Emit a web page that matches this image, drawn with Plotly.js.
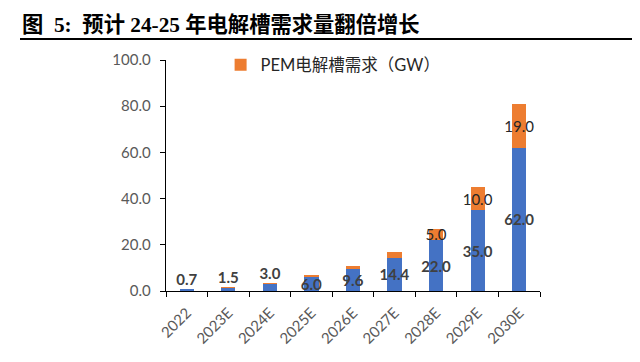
<!DOCTYPE html>
<html>
<head>
<meta charset="utf-8">
<script src="https://cdn.plot.ly/plotly-3.0.1.min.js"></script>
<style>html,body{margin:0;padding:0;background:#fff;}#chart{width:640px;height:362px;}</style>
</head>
<body>
<div id="chart"></div>
<script>
const categories = ["2022", "2023E", "2024E", "2025E", "2026E", "2027E", "2028E", "2029E", "2030E"];
const alkDemand = [0.7, 1.5, 3.0, 6.0, 9.6, 14.4, 22.0, 35.0, 62.0];
const pemDemand = [0.3, 0.3, 0.6, 0.8, 1.4, 2.4, 5.0, 10.0, 19.0];
const pemLabelled = [false, false, false, false, false, false, true, true, true];
const alkLabelAbove = [true, true, true, false, false, false, false, false, false];
const yTicks = [0, 20, 40, 60, 80, 100];

const titleText = "图&#8194;5:&#8194;预计 24-25 年电解槽需求量翻倍增长";
const pemName = "PEM电解槽需求（GW）";
const alkName = "ALK电解槽需求（GW）";

const totals = alkDemand.map((v, i) => v + pemDemand[i]);

const latin = "Lato, 'Noto Sans CJK SC', sans-serif";

const traces = [
  {
    type: "bar", name: alkName, x: categories, y: alkDemand,
    marker: {color: "#4472C4"}, showlegend: false,
    text: alkDemand.map((v, i) => alkLabelAbove[i] ? "" : v.toFixed(1)),
    textposition: "inside", insidetextanchor: "middle", constraintext: "none",
    textangle: 0, cliponaxis: false,
    textfont: {family: latin, size: 15, color: "#404040", weight: "bold"},
    hoverinfo: "skip"
  },
  {
    type: "bar", name: pemName, x: categories, y: pemDemand,
    marker: {color: "#ED7D31"},
    text: pemDemand.map((v, i) => pemLabelled[i] ? v.toFixed(1) : ""),
    textposition: "inside", insidetextanchor: "middle", constraintext: "none",
    textangle: 0, cliponaxis: false,
    textfont: {family: latin, size: 15, color: "#262626"},
    hoverinfo: "skip"
  },
  {
    type: "scatter", mode: "text", showlegend: false,
    x: categories.filter((c, i) => alkLabelAbove[i]),
    y: totals.filter((c, i) => alkLabelAbove[i]),
    text: alkDemand.filter((c, i) => alkLabelAbove[i]).map(v => v.toFixed(1)),
    textposition: "top center", cliponaxis: false,
    textfont: {family: latin, size: 15, color: "#404040", weight: "bold"},
    hoverinfo: "skip"
  }
];

const layout = {
  width: 640, height: 362,
  margin: {l: 166, r: 100, t: 60, b: 71},
  paper_bgcolor: "#fff", plot_bgcolor: "#fff",
  barmode: "stack", bargap: 0.66,
  title: {
    text: titleText,
    x: 22 / 640, xanchor: "left", xref: "container",
    y: 1 - 25 / 362, yanchor: "middle", yref: "container",
    font: {family: "'Liberation Serif', 'Noto Sans CJK SC', serif", size: 21.3, color: "#000", weight: "bold"}
  },
  showlegend: true,
  legend: {
    x: 0.146, y: 0.978, xanchor: "left", yanchor: "middle",
    orientation: "h", bgcolor: "rgba(0,0,0,0)",
    font: {family: latin, size: 16.5, color: "#262626"},
    itemclick: false
  },
  xaxis: {
    type: "category", showline: true, linecolor: "#000", linewidth: 1.3,
    ticks: "outside", tickson: "boundaries", ticklen: 5, tickcolor: "#000",
    tickangle: -45, showgrid: false, zeroline: false, ticklabelstandoff: 6,
    tickfont: {family: latin, size: 15, color: "#595959"}
  },
  yaxis: {
    range: [0, 100], tickvals: yTicks, tickformat: ".1f",
    showline: true, linecolor: "#000", linewidth: 1.3,
    ticks: "outside", ticklen: 5, tickcolor: "#000",
    showgrid: false, zeroline: false, ticklabelstandoff: 6,
    tickfont: {family: latin, size: 15, color: "#595959"}
  },
  shapes: [
    {type: "line", xref: "paper", yref: "paper",
     x0: (20 - 166) / 374, x1: (632 - 166) / 374,
     y0: (291 - 39) / 231, y1: (291 - 39) / 231,
     line: {color: "#000", width: 2}}
  ]
};

Plotly.newPlot("chart", traces, layout, {staticPlot: true, displayModeBar: false});
</script>
</body>
</html>
